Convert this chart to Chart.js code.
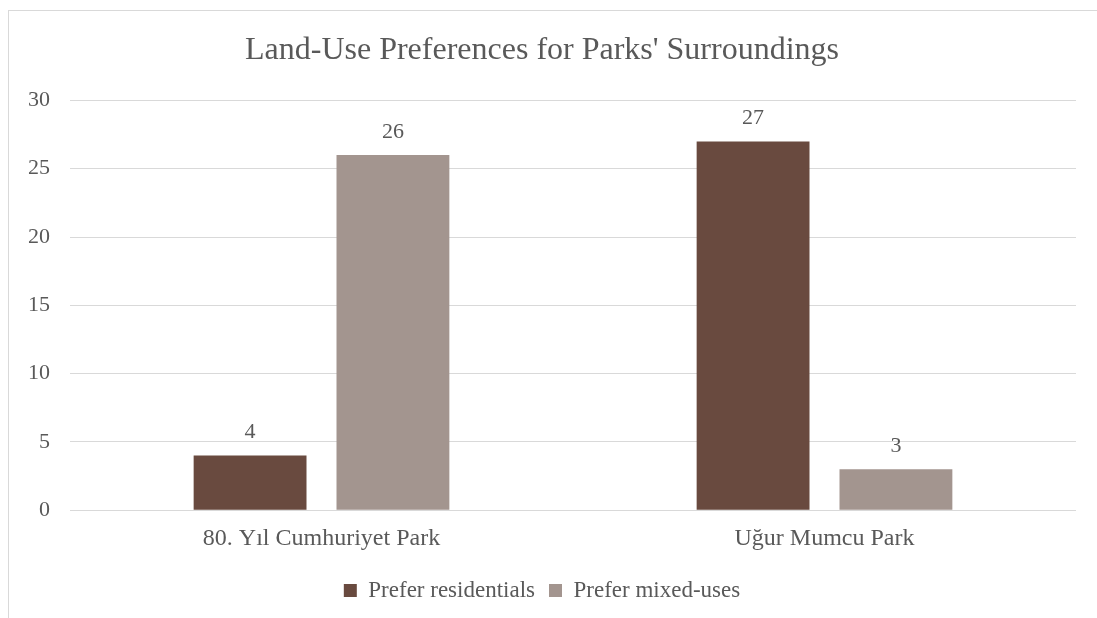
<!DOCTYPE html>
<html>
<head>
<meta charset="utf-8">
<script src="https://cdn.jsdelivr.net/npm/chart.js@4/dist/chart.umd.min.js"></script>
<style>
  html, body { margin: 0; padding: 0; background: #fff; }
  #wrap { position: relative; width: 1097px; height: 618px; overflow: hidden; }
  #frame { position: absolute; left: 8px; top: 10px; width: 1200px; height: 700px; border: 1px solid #d9d9d9; box-sizing: border-box; }
  #c { position: absolute; left: 0; top: 0; }
</style>
</head>
<body>
<div id="wrap">
  <div id="frame"></div>
  <canvas id="c" width="1097" height="618"></canvas>
</div>
<script>
var parks = ['80. Yıl Cumhuriyet Park', 'Uğur Mumcu Park'];
var residentials = [4, 27];
var mixedUses = [26, 3];
var yTicks = [0, 5, 10, 15, 20, 25, 30];

var serif = '"Liberation Serif", "Times New Roman", serif';
var textColor = '#595959';

// value labels above each bar
var barLabels = {
    id: 'barLabels',
    afterDatasetsDraw: function(chart) {
        var ctx = chart.ctx;
        ctx.save();
        ctx.font = '22px ' + serif;
        ctx.fillStyle = textColor;
        ctx.textAlign = 'center';
        ctx.textBaseline = 'bottom';
        chart.data.datasets.forEach(function(ds, i) {
            chart.getDatasetMeta(i).data.forEach(function(bar, j) {
                ctx.fillText(ds.data[j], bar.x, bar.y - 12);
            });
        });
        ctx.restore();
    }
};

new Chart(document.getElementById('c'), {
    type: 'bar',
    data: {
        labels: parks,
        datasets: [{
            label: 'Prefer residentials',
            data: residentials,
            backgroundColor: '#694a3f'
        }, {
            label: 'Prefer mixed-uses',
            data: mixedUses,
            backgroundColor: '#a3958f'
        }]
    },
    options: {
        responsive: false,
        animation: false,
        categoryPercentage: 0.568,
        barPercentage: 0.79,
        layout: { padding: { left: 8, right: 21, top: 0, bottom: 6 } },
        plugins: {
            title: {
                display: true,
                text: "Land-Use Preferences for Parks' Surroundings",
                color: textColor,
                font: { family: serif, size: 32, weight: 'normal' },
                padding: { top: 31, bottom: 31 }
            },
            legend: {
                position: 'bottom',
                labels: {
                    color: textColor,
                    font: { family: serif, size: 23 },
                    boxWidth: 13,
                    boxHeight: 13,
                    padding: 14
                }
            },
            tooltip: { enabled: false }
        },
        scales: {
            x: {
                grid: { display: false },
                border: { display: false },
                ticks: { color: textColor, font: { family: serif, size: 24 }, padding: 6 },
                afterFit: function(axis) { axis.height += 6; }
            },
            y: {
                min: 0,
                max: 30,
                afterBuildTicks: function(axis) {
                    axis.ticks = yTicks.map(function(v) { return { value: v }; });
                },
                grid: { color: '#d9d9d9', drawTicks: false },
                border: { display: false },
                ticks: { color: textColor, font: { family: serif, size: 22 }, padding: 20 }
            }
        }
    },
    plugins: [barLabels]
});
</script>
</body>
</html>
